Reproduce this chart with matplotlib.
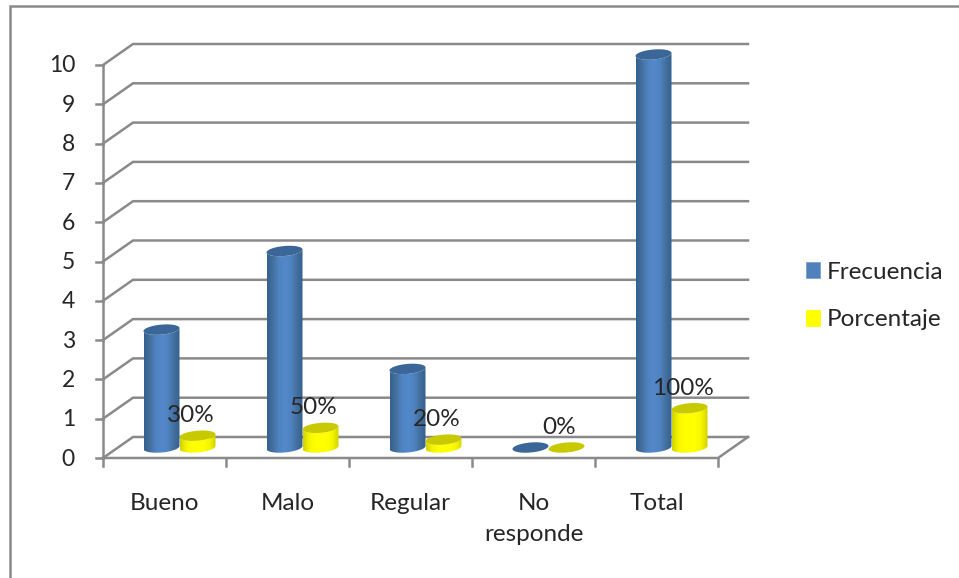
import numpy as np
import matplotlib
matplotlib.use('Agg')
import matplotlib.pyplot as plt
from matplotlib.colors import LinearSegmentedColormap
from matplotlib.lines import Line2D
from matplotlib.patches import PathPatch, Polygon, Rectangle
from matplotlib.path import Path

# values
categories = ['Bueno', 'Malo', 'Regular', 'No\nresponde', 'Total']
frecuencia = [3, 5, 2, 0, 10]
porcentaje = [0.3, 0.5, 0.2, 0, 1]
etiquetas = ['30%', '50%', '20%', '0%', '100%']
y_ticks = list(range(0, 11))

W, H = 959, 578
GRID = '#8a8a8a'
TEXT = '#262626'
FONT = 'Lato'
FS = 17.5
FS_TICK = 16.5
LW = 1.8

# pixel sizes of the fake 3d box, turned into data units below
LEFT, RIGHT, BOTTOM, TOP = 103, 718, 458, 65
PX_X = (RIGHT - LEFT) / 5
PX_Y = (BOTTOM - TOP) / 10
DX = 30 / PX_X
DY = 21 / PX_Y
BAR_W = 36 / PX_X
ELL_H = 5 / PX_Y
ELL_S = 1.5 / PX_Y

blue_map = LinearSegmentedColormap.from_list(
    'b', ['#35608f', '#44719f', '#4f83c2', '#5389cc', '#4f83c2', '#44719f', '#33608e'])
yellow_map = LinearSegmentedColormap.from_list(
    'y', ['#d2d200', '#f4f400', '#ffff00', '#ffff00', '#ffff00', '#f4f400', '#d2d200'])

fig = plt.figure(figsize=(W / 100, H / 100), dpi=100, facecolor='white')
ax = fig.add_axes([LEFT / W, 1 - BOTTOM / H, (RIGHT - LEFT) / W, (BOTTOM - TOP) / H])
ax.axis('off')


def ellipse(cx, cy, t):
    return cx + BAR_W / 2 * np.cos(t), cy + ELL_H * np.sin(t) + ELL_S * np.cos(t)


def cylinder(cx, value, cmap, top_color, base):
    t_low = np.linspace(np.pi, 2 * np.pi, 40)
    t_all = np.linspace(0, 2 * np.pi, 80)
    top = base + value
    if value > 0:
        xl, yl = ellipse(cx, base, t_low)
        xt, yt = ellipse(cx, top, t_low[::-1])
        verts = np.column_stack([np.r_[xl, xt], np.r_[yl, yt]])
        shape = PathPatch(Path(np.vstack([verts, verts[0]]), closed=True),
                          transform=ax.transData, fc='none', ec='none')
        ramp = np.linspace(0, 1, 64).reshape(1, -1)
        im = ax.imshow(ramp, cmap=cmap, aspect='auto', interpolation='bilinear', zorder=4,
                       extent=[cx - BAR_W / 2, cx + BAR_W / 2, base - 1, top + 1])
        im.set_clip_path(shape)
        # the tall bar goes above the axes box
        im.set_clip_box(fig.bbox)
    xe, ye = ellipse(cx, top, t_all)
    ax.add_patch(Polygon(np.column_stack([xe, ye]), closed=True, fc=top_color, ec='none',
                         zorder=5, clip_on=False))


n = len(categories)
x = np.arange(n) + 0.5

# walls and floor
for v in y_ticks:
    ax.plot([0, DX, 5 + DX], [v, v + DY, v + DY], color=GRID, lw=LW, clip_on=False,
            solid_joinstyle='miter', zorder=1)
    ax.plot([-7 / PX_X, 0], [v, v], color=GRID, lw=LW, clip_on=False, zorder=2)
    ax.text(-28 / PX_X, v - 1 / PX_Y, str(v), ha='right', va='center', fontsize=FS_TICK,
            family=FONT, color=TEXT, clip_on=False)
ax.plot([0, 0], [0, 10], color=GRID, lw=LW, clip_on=False, zorder=2)
ax.plot([0, 5, 5 + DX], [0, 0, DY], color=GRID, lw=LW, clip_on=False, zorder=2)
for i in range(n + 1):
    ax.plot([i, i], [0, -8 / PX_Y], color=GRID, lw=LW, clip_on=False, zorder=2)

# cylinders
base_y = DY / 2
for i in range(n):
    cx = x[i] + DX / 2
    cylinder(cx - BAR_W / 2, frecuencia[i], blue_map, '#3a6797', base_y)
    cylinder(cx + BAR_W / 2, porcentaje[i], yellow_map, '#c9c900', base_y)
    ax.text(cx + BAR_W / 2 - 7 / PX_X, base_y + porcentaje[i] + 20 / PX_Y, etiquetas[i],
            ha='center', va='center', fontsize=FS, family=FONT, color=TEXT, zorder=6, clip_on=False)
    ax.text(x[i], -35 / PX_Y, categories[i], ha='center', va='top', fontsize=FS, family=FONT,
            color=TEXT, linespacing=1.6, clip_on=False)

ax.set_xlim(0, 5)
ax.set_ylim(0, 10)

# legend
handles = [Rectangle((0, 0), 1, 1, fc='#4f81bd', ec='#7aa0cf', lw=0.6),
           Rectangle((0, 0), 1, 1, fc='#ffff00', ec='#ffff00', lw=0.6)]
fig.legend(handles, ['Frecuencia', 'Porcentaje'], frameon=False, loc='upper left',
           bbox_to_anchor=(796 / W, 1 - 252 / H), prop={'family': FONT, 'size': FS},
           labelcolor=TEXT, handlelength=0.6, handleheight=0.6, handletextpad=0.26,
           labelspacing=1.1, borderaxespad=0, borderpad=0.4)

# outer frame, only top and left show in the picture
fig.add_artist(Line2D([10 / W, 10 / W, 1], [0, 1 - 6 / H, 1 - 6 / H], color=GRID, lw=LW,
                      transform=fig.transFigure, solid_joinstyle='miter'))

fig.savefig('out.png', dpi=100)
